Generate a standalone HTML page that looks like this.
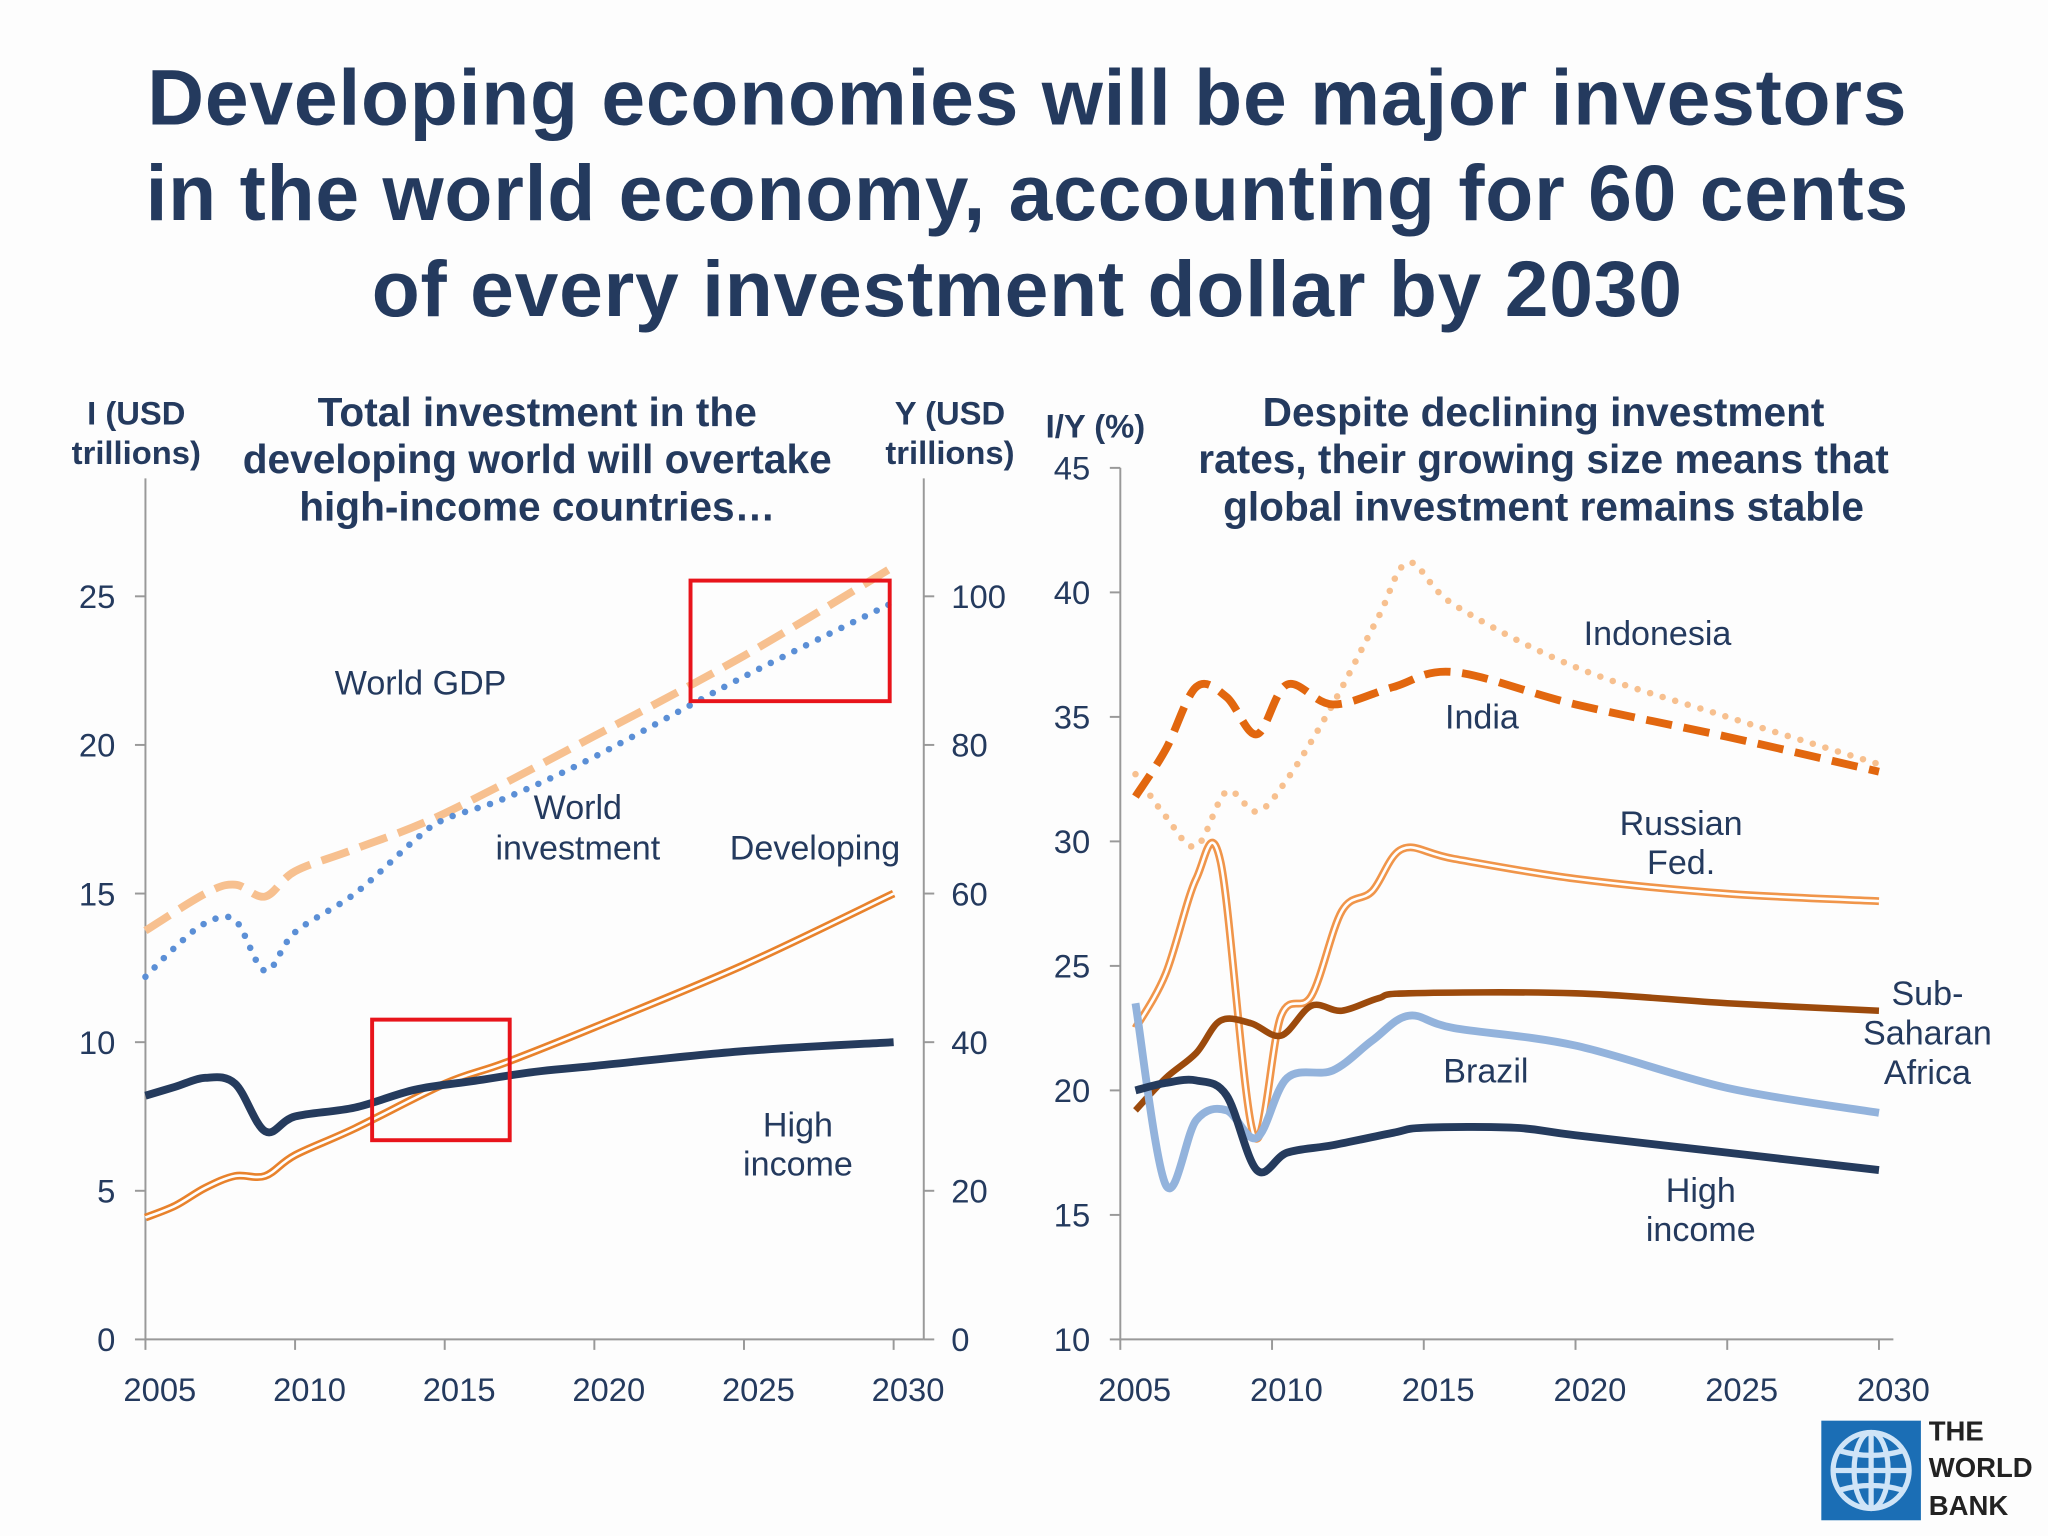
<!DOCTYPE html>
<html><head><meta charset="utf-8">
<style>
html,body{margin:0;padding:0;background:#fff;}
svg{display:block;font-family:"Liberation Sans",Arial,sans-serif;}
</style></head>
<body>
<svg id="chart" width="2048" height="1536" viewBox="0 0 1563 1172" preserveAspectRatio="none" xmlns="http://www.w3.org/2000/svg">
<rect width="1563" height="1172" fill="#fdfdfd"/>
<g fill="#243a5e" font-weight="bold" font-size="60" text-anchor="middle" letter-spacing="0.6">
<text x="784" y="95">Developing economies will be major investors</text>
<text x="784" y="168">in the world economy, accounting for 60 cents</text>
<text x="784" y="241">of every investment dollar by 2030</text>
</g>
<g fill="#243a5e" font-weight="bold" font-size="31" text-anchor="middle">
<g>
<text x="410" y="325">Total investment in the</text>
<text x="410" y="361">developing world will overtake</text>
<text x="410" y="397">high-income countries…</text></g>
<g>
<text x="1178" y="325">Despite declining investment</text>
<text x="1178" y="361">rates, their growing size means that</text>
<text x="1178" y="397">global investment remains stable</text></g>
</g>
<g fill="#243a5e" font-weight="bold" font-size="25" text-anchor="middle">
<text x="104" y="324">I (USD<tspan x="104" dy="30">trillions)</tspan></text>
<text x="725" y="324">Y (USD<tspan x="725" dy="30">trillions)</tspan></text>
<text x="836" y="334">I/Y (%)</text>
</g>
<g id="left"></g>
<g id="right"></g>
<g>
<rect x="1390" y="1084" width="76" height="76" fill="#1b6eb5"/>
<g fill="none" stroke="#cfe4f7" stroke-width="4">
<circle cx="1428" cy="1122" r="29"/>
<ellipse cx="1428" cy="1122" rx="13" ry="29"/>
<line x1="1428" y1="1093" x2="1428" y2="1151"/>
<line x1="1399" y1="1122" x2="1457" y2="1122"/>
<path d="M1404 1107 Q1428 1114 1452 1107 M1404 1137 Q1428 1130 1452 1137"/>
</g>
<g fill="#222" font-weight="bold" font-size="21">
<text x="1472" y="1099">THE</text><text x="1472" y="1127">WORLD</text><text x="1472" y="1156">BANK</text></g>
</g>
</svg>
<script>
// ---- Left chart data ----
const gdpYears=[2005,2007,2008,2009,2010,2012,2015,2020,2025,2030];
const gdpValues=[55,60,61.2,59.6,63,66,70.8,81.2,92,104]; // right axis (Y, USD tn)
const invYears=[2005,2006,2007,2008,2009,2010,2012,2014,2015,2017,2020,2025,2030];
const invValues=[12.2,13.2,14,14.1,12.4,13.7,15,16.8,17.5,18.2,19.6,22.3,24.8];
const devYears=[2005,2006,2007,2008,2009,2010,2012,2015,2017,2020,2025,2030];
const devValues=[4.1,4.5,5.1,5.5,5.5,6.2,7.1,8.6,9.3,10.5,12.6,15];
const hiYears=[2005,2006,2007,2008,2009,2010,2012,2014,2016,2018,2020,2025,2030];
const hiValues=[8.2,8.5,8.8,8.6,7.0,7.5,7.8,8.4,8.7,9.0,9.2,9.7,10];
const leftTicks=[0,5,10,15,20,25];
const rightTicks=[0,20,40,60,80,100];
const xTicks=[2005,2010,2015,2020,2025,2030];
// ---- Right chart data ----
const indoYears=[2005.5,2006.5,2007.5,2008.5,2009.5,2010.5,2012,2013.5,2014.5,2016,2020,2025,2030];
const indoValues=[32.7,31,29.8,32,31.2,32.5,35.5,39,41.2,39.5,37,35,33.1];
const indiaYears=[2005.5,2006.5,2007.5,2008.5,2009.5,2010.5,2012,2014,2016,2020,2025,2030];
const indiaValues=[31.8,33.7,36.2,35.8,34.3,36.3,35.5,36.2,36.8,35.5,34.2,32.8];
const rusYears=[2005.5,2006.5,2007.5,2008.3,2009.4,2010.3,2011.3,2012.3,2013.3,2014.3,2016,2020,2025,2030];
const rusValues=[22.5,24.7,28.5,29.2,18.2,23,23.8,27.2,28,29.7,29.3,28.5,27.9,27.6];
const ssaYears=[2005.5,2006.5,2007.5,2008.3,2009.3,2010.3,2011.3,2012.3,2013.5,2014.5,2020,2025,2030];
const ssaValues=[19.2,20.5,21.5,22.8,22.7,22.2,23.4,23.2,23.7,23.9,23.9,23.5,23.2];
const braYears=[2005.5,2006.5,2007.5,2008.5,2009.5,2010.5,2012,2013.3,2014.5,2016,2020,2025,2030];
const braValues=[23.5,16.2,18.8,19.2,18.1,20.5,20.8,22,23,22.5,21.8,20.1,19.1];
const rhiYears=[2005.5,2006.5,2007.5,2008.5,2009.5,2010.5,2012,2014,2015,2018,2020,2025,2030];
const rhiValues=[20,20.3,20.4,19.8,16.8,17.5,17.8,18.3,18.5,18.5,18.2,17.5,16.8];
const rTicks=[10,15,20,25,30,35,40,45];

const NS='http://www.w3.org/2000/svg';
function mk(parent,tag,attrs,text){const e=document.createElementNS(NS,tag);for(const k in attrs)e.setAttribute(k,attrs[k]);if(text!==undefined)e.textContent=text;parent.appendChild(e);return e;}
function smooth(pts){let d='M'+pts[0][0]+' '+pts[0][1];for(let i=0;i<pts.length-1;i++){const p0=pts[Math.max(0,i-1)],p1=pts[i],p2=pts[i+1],p3=pts[Math.min(pts.length-1,i+2)];const c1=[p1[0]+(p2[0]-p0[0])/6,p1[1]+(p2[1]-p0[1])/6],c2=[p2[0]-(p3[0]-p1[0])/6,p2[1]-(p3[1]-p1[1])/6];d+=' C'+c1.join(' ')+' '+c2.join(' ')+' '+p2.join(' ');}return d;}

// Left axes
const lx=y=>111+(y-2005)*(571/25);
const ly=v=>1022-v*(567/25);
const ry=v=>1022-v*(567/100);
const L=document.getElementById('left');
const laxis=mk(L,'g',{stroke:'#999','stroke-width':1.5});


mk(laxis,'line',{x1:111,y1:365,x2:111,y2:1022});
mk(laxis,'line',{x1:111,y1:1022,x2:705,y2:1022});
mk(laxis,'line',{x1:705,y1:365,x2:705,y2:1022});
leftTicks.forEach(t=>{mk(laxis,'line',{x1:103,y1:ly(t),x2:111,y2:ly(t)});
const tx=mk(L,'text',{x:88,y:ly(t)+9,'text-anchor':'end','font-size':25,fill:'#243a5e'},t);

});
rightTicks.forEach(t=>{mk(laxis,'line',{x1:705,y1:ry(t),x2:713,y2:ry(t)});
const tx=mk(L,'text',{x:726,y:ry(t)+9,'font-size':25,fill:'#243a5e'},t);

});
xTicks.forEach(t=>{mk(laxis,'line',{x1:lx(t),y1:1022,x2:lx(t),y2:1030});
const tx=mk(L,'text',{x:lx(t)+11,y:1069,'text-anchor':'middle','font-size':25,fill:'#243a5e'},t);

});
function lpts(ys,vs,f){return ys.map((y,i)=>[lx(y),f(vs[i])]);}
let p;
p=mk(L,'path',{d:smooth(lpts(gdpYears,gdpValues,ry)),fill:'none',stroke:'#f7c08f','stroke-width':6,'stroke-dasharray':'22 9'});


p=mk(L,'path',{d:smooth(lpts(invYears,invValues,ly)),fill:'none',stroke:'#5b8fd6','stroke-width':5,'stroke-dasharray':'0 10','stroke-linecap':'round'});


p=mk(L,'path',{d:smooth(lpts(devYears,devValues,ly)),fill:'none',stroke:'#e8822c','stroke-width':6});


mk(L,'path',{d:smooth(lpts(devYears,devValues,ly)),fill:'none',stroke:'#fff','stroke-width':2});
p=mk(L,'path',{d:smooth(lpts(hiYears,hiValues,ly)),fill:'none',stroke:'#253b5d','stroke-width':6});


p=mk(L,'rect',{x:527,y:443,width:152,height:92,fill:'none',stroke:'#e8141b','stroke-width':3});


p=mk(L,'rect',{x:284,y:778,width:105,height:92,fill:'none',stroke:'#e8141b','stroke-width':3});


[['World GDP',321,530,'label-world-gdp'],['World',441,625,'label-world-investment'],['investment',441,656,'label-world-investment-2'],['Developing',622,656,'label-developing'],['High',609,867,'label-high-income'],['income',609,897,'label-high-income-2']].forEach(a=>{
const t=mk(L,'text',{x:a[1],y:a[2],'text-anchor':'middle','font-size':26,fill:'#243a5e'},a[0]);

});

// Right chart
const rx=y=>855+(y-2005)*(579/25);
const rY=v=>1022-(v-10)*(665/35);
const R=document.getElementById('right');
const raxis=mk(R,'g',{stroke:'#999','stroke-width':1.5});


mk(raxis,'line',{x1:855,y1:357,x2:855,y2:1022});
mk(raxis,'line',{x1:855,y1:1022,x2:1445,y2:1022});
rTicks.forEach(t=>{mk(raxis,'line',{x1:847,y1:rY(t),x2:855,y2:rY(t)});
const tx=mk(R,'text',{x:832,y:rY(t)+9,'text-anchor':'end','font-size':25,fill:'#243a5e'},t);

});
xTicks.forEach(t=>{mk(raxis,'line',{x1:rx(t),y1:1022,x2:rx(t),y2:1030});
const tx=mk(R,'text',{x:rx(t)+11,y:1069,'text-anchor':'middle','font-size':25,fill:'#243a5e'},t);

});
function rp(ys,vs){return smooth(ys.map((y,i)=>[rx(y),rY(vs[i])]));}
p=mk(R,'path',{d:rp(indoYears,indoValues),fill:'none',stroke:'#f7c08f','stroke-width':5,'stroke-dasharray':'0 10','stroke-linecap':'round'});


p=mk(R,'path',{d:rp(indiaYears,indiaValues),fill:'none',stroke:'#e2670f','stroke-width':6,'stroke-dasharray':'20 9'});


p=mk(R,'path',{d:rp(rusYears,rusValues),fill:'none',stroke:'#f0954a','stroke-width':6});


mk(R,'path',{d:rp(rusYears,rusValues),fill:'none',stroke:'#fff','stroke-width':2});
p=mk(R,'path',{d:rp(ssaYears,ssaValues),fill:'none',stroke:'#9c4a0c','stroke-width':5});


p=mk(R,'path',{d:rp(braYears,braValues),fill:'none',stroke:'#93b3dc','stroke-width':6});


p=mk(R,'path',{d:rp(rhiYears,rhiValues),fill:'none',stroke:'#253b5d','stroke-width':6});


[['Indonesia',1265,492,'label-indonesia'],['India',1131,556,'label-india'],['Russian',1283,637,'label-russia'],['Fed.',1283,667,'label-russia-2'],['Sub-',1471,767,'label-ssa'],['Saharan',1471,797,'label-ssa-2'],['Africa',1471,827,'label-ssa-3'],['Brazil',1134,826,'label-brazil'],['High',1298,917,'label-high-income-rate'],['income',1298,947,'label-high-income-rate-2']].forEach(a=>{
const t=mk(R,'text',{x:a[1],y:a[2],'text-anchor':'middle','font-size':26,fill:'#243a5e'},a[0]);

});
</script>
</body></html>
